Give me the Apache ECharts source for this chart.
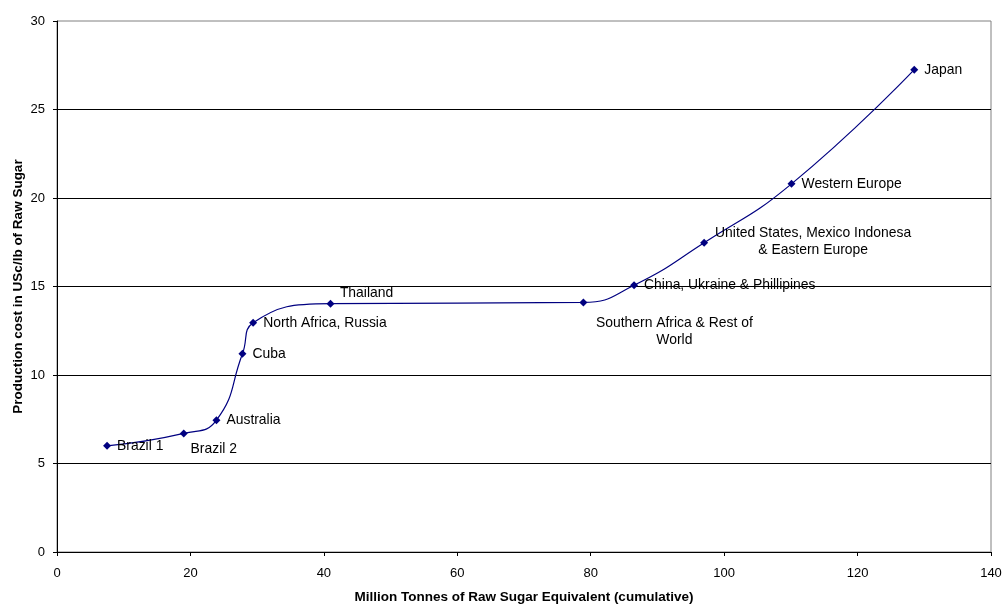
<!DOCTYPE html>
<html>
<head>
<meta charset="utf-8">
<script src="https://cdn.jsdelivr.net/npm/echarts@6/dist/echarts.min.js"></script>
<style>
html,body{margin:0;padding:0;background:#fff;}
#chart{width:1004px;height:605px;}
</style>
</head>
<body>
<div id="chart"></div>
<script>
// ---- data ----
const regions = ["Brazil 1", "Brazil 2", "Australia", "Cuba", "North Africa, Russia", "Thailand",
  "Southern Africa & Rest of\nWorld", "China, Ukraine & Phillipines",
  "United States, Mexico Indonesa\n& Eastern Europe", "Western Europe", "Japan"];
const cumulativeTonnes = [7.5, 19.0, 23.9, 27.8, 29.4, 41.0, 78.9, 86.5, 97.0, 110.1, 128.5];
const productionCost = [6.0, 6.7, 7.45, 11.2, 12.95, 14.03, 14.1, 15.07, 17.47, 20.8, 27.25];
const xTicks = [0, 20, 40, 60, 80, 100, 120, 140];
const yTicks = [0, 5, 10, 15, 20, 25, 30];

// ---- label layout (style, not data) ----
const FONT = "'Liberation Sans', Arial, sans-serif";
const specialLabels = {
  "Brazil 2": [30, 16],
  "Thailand": [36, -10],
  "Southern Africa & Rest of\nWorld": [91, 29],
  "United States, Mexico Indonesa\n& Eastern Europe": [109, -1]
};

const seriesData = regions.map((name, i) => {
  const item = { name: name, value: [cumulativeTonnes[i], productionCost[i]] };
  if (specialLabels[name]) {
    item.label = { position: 'inside', offset: specialLabels[name], align: 'center', verticalAlign: 'middle' };
  }
  return item;
});

const chart = echarts.init(document.getElementById('chart'));
chart.setOption({
  backgroundColor: '#ffffff',
  animation: false,
  grid: { left: 57, right: 13, top: 21, bottom: 53, outerBoundsMode: 'none', containLabel: false,
          show: true, borderColor: '#808080', borderWidth: 1 },
  xAxis: {
    type: 'value', min: xTicks[0], max: xTicks[xTicks.length - 1], interval: xTicks[1] - xTicks[0],
    name: 'Million Tonnes of Raw Sugar Equivalent (cumulative)', nameLocation: 'middle', nameGap: 38,
    nameMoveOverlap: false,
    nameTextStyle: { fontFamily: FONT, fontSize: 13.5, fontWeight: 'bold', color: '#000' },
    axisLine: { lineStyle: { color: '#000', width: 1 } },
    axisTick: { show: true, length: 4, lineStyle: { color: '#000' } },
    axisLabel: { fontFamily: FONT, fontSize: 13, color: '#000', margin: 15 },
    splitLine: { show: false }
  },
  yAxis: {
    type: 'value', min: yTicks[0], max: yTicks[yTicks.length - 1], interval: yTicks[1] - yTicks[0],
    name: 'Production cost in USc/lb of Raw Sugar', nameLocation: 'middle', nameGap: 32,
    nameMoveOverlap: false,
    nameTextStyle: { fontFamily: FONT, fontSize: 13.5, fontWeight: 'bold', color: '#000' },
    axisLine: { show: true, lineStyle: { color: '#000', width: 1 } },
    axisTick: { show: true, length: 4, lineStyle: { color: '#000' } },
    axisLabel: { fontFamily: FONT, fontSize: 13, color: '#000', margin: 12 },
    splitLine: { show: true, showMaxLine: false, lineStyle: { color: '#000', width: 1 } }
  },
  series: [{
    type: 'line',
    data: seriesData,
    smooth: 0.5,
    symbol: 'diamond',
    symbolSize: 8,
    lineStyle: { color: '#000080', width: 1.2 },
    itemStyle: { color: '#000080' },
    label: {
      show: true, position: 'right', distance: 6,
      formatter: p => p.name,
      fontFamily: FONT, fontSize: 13.9, color: '#000', lineHeight: 17
    },
    emphasis: { disabled: true }
  }]
});
</script>
</body>
</html>
